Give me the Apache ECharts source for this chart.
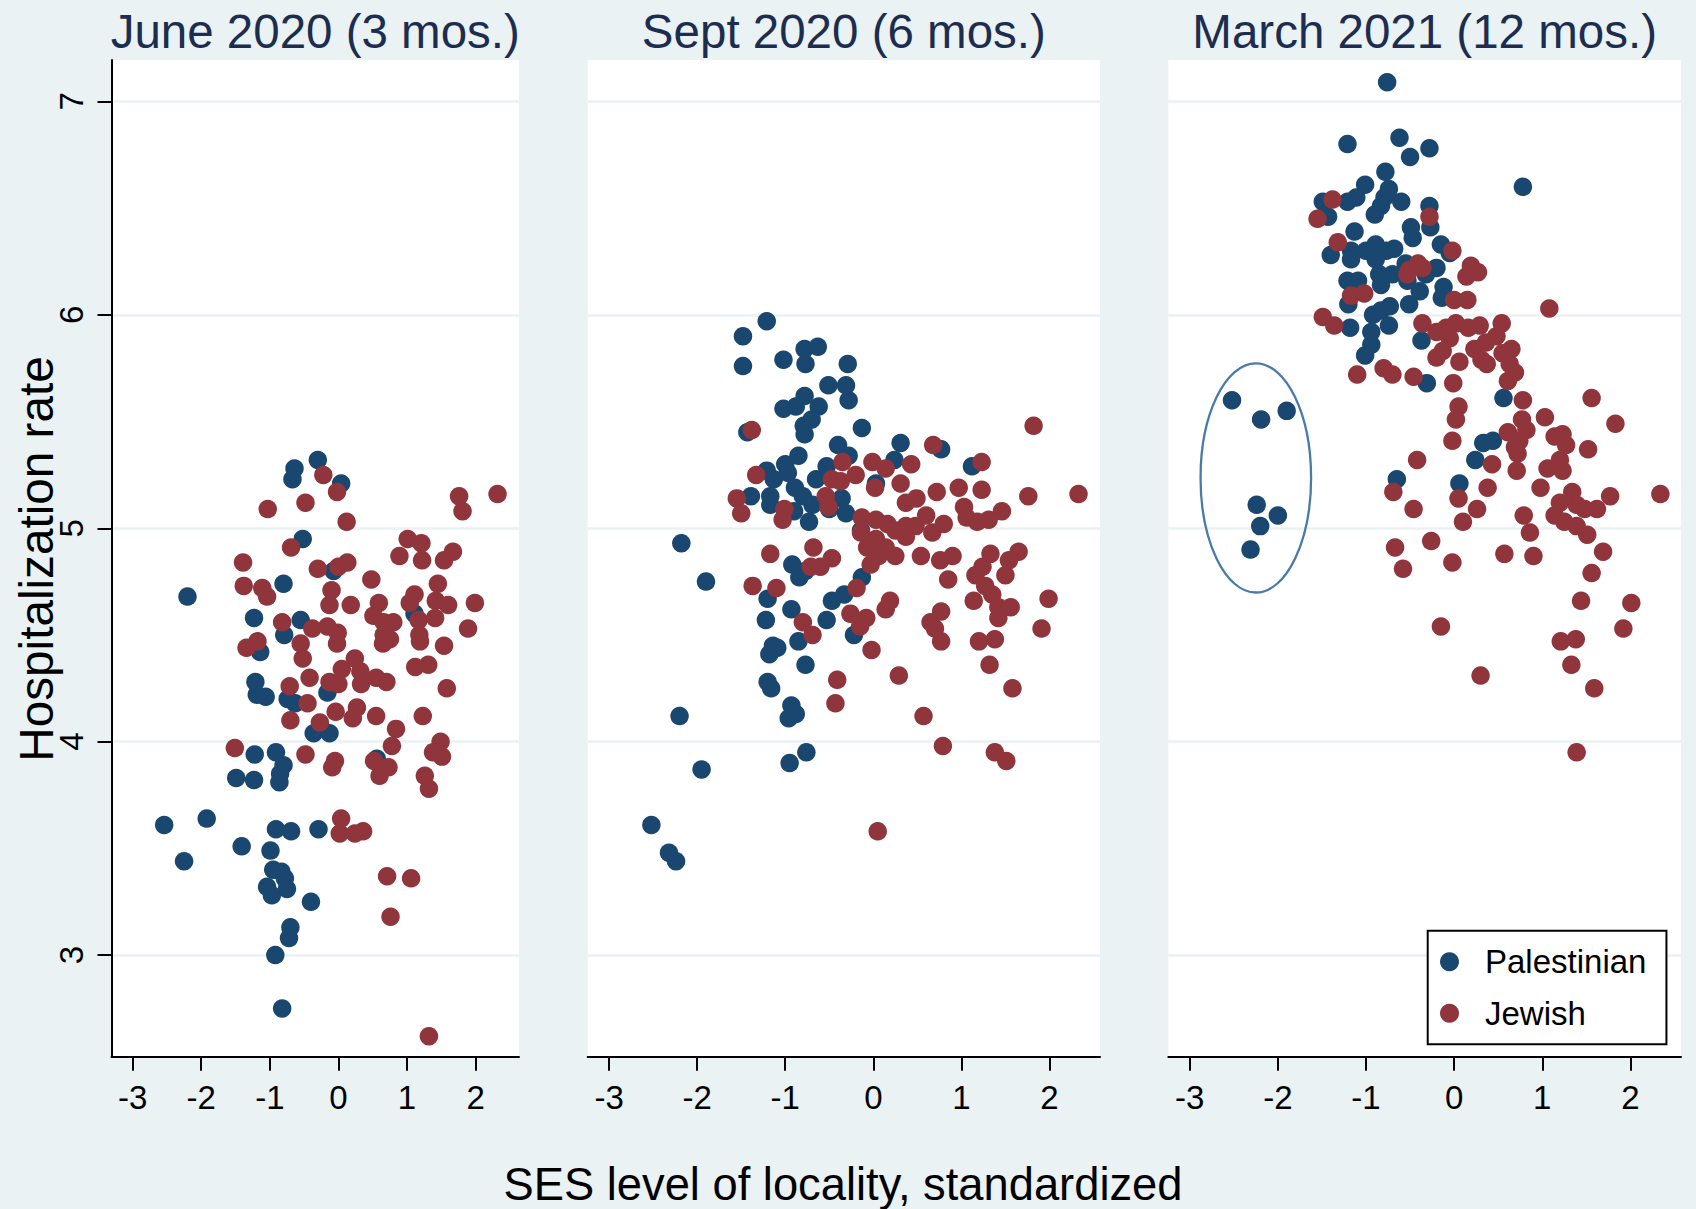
<!DOCTYPE html>
<html><head><meta charset="utf-8">
<script src="https://cdn.jsdelivr.net/npm/echarts@6/dist/echarts.min.js"></script>
<style>html,body{margin:0;padding:0;background:#eaf2f3}#c{width:1696px;height:1209px}</style>
</head><body><div id="c"></div>
<script>
// ---------- data ----------
const panelTitles = ['June 2020 (3 mos.)', 'Sept 2020 (6 mos.)', 'March 2021 (12 mos.)'];
const seriesNames = ['Palestinian', 'Jewish'];
const xTicks = [-3, -2, -1, 0, 1, 2];
const yTicks = [3, 4, 5, 6, 7];
const xTitle = 'SES level of locality, standardized';
const yTitle = 'Hospitalization rate';

const junePalestinian = [[-0.30,5.32],[-0.64,5.28],[-0.67,5.23],[0.04,5.21],[-0.52,4.95],[-2.20,4.68],[-0.80,4.74],[-0.07,4.80],[-1.23,4.58],[-0.55,4.57],[-0.79,4.50],[-1.14,4.42],[1.11,4.60],[-1.21,4.28],[-1.19,4.22],[-1.06,4.21],[-0.74,4.20],[-0.63,4.18],[-0.16,4.23],[-0.36,4.04],[-0.13,4.04],[-1.22,3.94],[-0.91,3.95],[-0.80,3.89],[-0.85,3.85],[-0.86,3.81],[-1.49,3.83],[-1.23,3.82],[0.56,3.92],[-2.54,3.61],[-1.92,3.64],[-2.25,3.44],[-1.41,3.51],[-0.91,3.59],[-0.69,3.58],[-0.29,3.59],[-0.99,3.49],[-0.95,3.40],[-0.83,3.39],[-0.78,3.36],[-1.04,3.32],[-0.97,3.28],[-0.75,3.31],[-0.40,3.25],[-0.70,3.13],[-0.72,3.08],[-0.92,3.00],[-0.82,2.75]];
const juneJewish = [[-0.22,5.25],[-0.02,5.17],[-0.48,5.12],[-1.03,5.09],[0.12,5.03],[1.76,5.15],[1.81,5.08],[2.32,5.16],[-0.69,4.91],[-1.39,4.84],[-1.38,4.73],[-1.11,4.72],[-1.04,4.68],[-0.30,4.81],[0.00,4.82],[0.13,4.84],[-0.10,4.71],[-0.13,4.64],[0.18,4.64],[0.48,4.76],[0.59,4.65],[1.01,4.95],[1.21,4.93],[0.89,4.87],[1.22,4.85],[1.54,4.85],[1.67,4.89],[1.45,4.74],[1.11,4.69],[1.04,4.65],[1.42,4.66],[1.60,4.64],[1.99,4.65],[1.89,4.53],[0.51,4.59],[0.66,4.56],[0.80,4.56],[0.66,4.50],[0.75,4.48],[0.65,4.46],[1.17,4.57],[1.41,4.58],[1.18,4.50],[1.19,4.47],[1.54,4.45],[-0.82,4.56],[-0.38,4.53],[-0.16,4.54],[-0.01,4.51],[-0.02,4.46],[-0.55,4.46],[-1.34,4.44],[-1.18,4.47],[-0.52,4.39],[0.24,4.39],[0.05,4.34],[0.32,4.33],[-0.42,4.30],[-0.71,4.26],[-0.13,4.28],[0.00,4.27],[0.33,4.27],[0.55,4.30],[0.70,4.28],[1.12,4.35],[1.31,4.36],[1.58,4.25],[-0.45,4.18],[-0.04,4.14],[0.27,4.16],[0.21,4.11],[0.55,4.12],[1.23,4.12],[-0.70,4.10],[-0.27,4.09],[0.84,4.06],[0.78,3.98],[1.49,4.00],[1.38,3.95],[1.51,3.93],[-1.51,3.97],[-0.48,3.94],[-0.05,3.91],[-0.09,3.88],[0.52,3.91],[0.73,3.88],[0.60,3.84],[1.26,3.84],[1.32,3.78],[0.04,3.64],[0.02,3.57],[0.24,3.57],[0.36,3.58],[0.71,3.37],[1.06,3.36],[0.76,3.18],[1.32,2.62]];

const septPalestinian = [[-1.21,5.97],[-1.48,5.90],[-1.48,5.76],[-1.02,5.79],[-0.78,5.84],[-0.63,5.85],[-0.77,5.77],[-0.29,5.77],[-0.51,5.67],[-0.31,5.67],[-0.28,5.60],[-0.78,5.62],[-0.88,5.57],[-1.02,5.56],[-0.62,5.57],[-0.70,5.51],[-0.79,5.48],[-0.78,5.44],[-1.43,5.45],[-0.13,5.47],[-0.40,5.39],[-0.28,5.34],[0.31,5.40],[0.24,5.32],[0.77,5.37],[1.12,5.29],[-0.85,5.34],[-1.00,5.30],[-1.21,5.27],[-1.13,5.23],[-0.97,5.26],[-0.65,5.23],[-0.53,5.29],[-0.89,5.19],[-0.80,5.15],[-1.17,5.15],[-1.17,5.11],[-1.39,5.15],[-0.90,5.08],[-0.69,5.11],[-0.73,5.03],[-0.50,5.09],[-0.36,5.14],[-0.31,5.07],[0.03,5.21],[-0.14,4.99],[-2.18,4.93],[-1.90,4.75],[-0.92,4.83],[-0.84,4.77],[-0.77,4.80],[-0.13,4.77],[-0.33,4.69],[-0.47,4.66],[-1.20,4.67],[-1.22,4.57],[-0.93,4.62],[-0.53,4.57],[-0.22,4.50],[-0.85,4.47],[-1.14,4.45],[-1.18,4.41],[-1.09,4.44],[-0.77,4.36],[-1.20,4.28],[-1.16,4.25],[-0.93,4.17],[-0.88,4.13],[-0.96,4.11],[-2.20,4.12],[-0.76,3.95],[-0.95,3.90],[-1.95,3.87],[-2.52,3.61],[-2.32,3.48],[-2.24,3.44]];
const septJewish = [[-1.38,5.46],[1.82,5.48],[0.68,5.39],[1.23,5.31],[2.33,5.16],[1.76,5.15],[-0.35,5.31],[-0.20,5.25],[-0.47,5.23],[-0.37,5.22],[-0.01,5.31],[0.14,5.28],[0.43,5.30],[0.31,5.21],[0.02,5.19],[-1.33,5.25],[-1.55,5.14],[-1.50,5.07],[-1.01,5.09],[-1.03,5.04],[-0.54,5.15],[-0.51,5.10],[0.37,5.12],[0.49,5.14],[0.72,5.17],[0.97,5.19],[1.23,5.18],[1.03,5.10],[1.06,5.05],[1.18,5.03],[1.31,5.04],[1.46,5.08],[0.60,5.06],[0.67,4.98],[0.80,5.02],[0.48,5.01],[-0.13,5.05],[0.03,5.04],[0.16,5.02],[0.25,4.99],[0.37,4.96],[0.37,5.01],[-0.14,4.98],[-0.07,4.91],[0.03,4.95],[0.14,4.91],[0.25,4.87],[0.06,4.87],[-0.03,4.83],[0.54,4.87],[0.76,4.85],[0.90,4.87],[0.85,4.76],[1.33,4.88],[1.24,4.82],[1.16,4.78],[1.65,4.89],[1.54,4.85],[1.50,4.78],[1.27,4.73],[1.35,4.69],[1.99,4.67],[-0.68,4.91],[-0.47,4.86],[-1.17,4.88],[-0.60,4.82],[-0.71,4.82],[-1.37,4.73],[-1.10,4.72],[-0.19,4.72],[0.19,4.66],[1.14,4.66],[-0.80,4.56],[-0.69,4.50],[-0.26,4.60],[-0.08,4.58],[-0.15,4.54],[0.14,4.62],[-0.02,4.43],[-0.41,4.29],[-0.43,4.18],[0.29,4.31],[0.77,4.61],[0.65,4.56],[0.70,4.53],[0.77,4.47],[1.42,4.63],[1.56,4.63],[1.42,4.58],[1.20,4.47],[1.38,4.48],[1.32,4.36],[1.58,4.25],[1.91,4.53],[0.57,4.12],[0.79,3.98],[1.38,3.95],[1.51,3.91],[0.05,3.58]];

const marchPalestinian = [[-0.76,7.09],[-1.21,6.80],[-0.62,6.83],[-0.50,6.74],[-0.28,6.78],[0.78,6.60],[-0.78,6.67],[-1.01,6.61],[-0.74,6.59],[-1.11,6.55],[-1.21,6.53],[-1.49,6.53],[-1.43,6.46],[-0.60,6.53],[-0.79,6.55],[-0.83,6.51],[-0.90,6.47],[-0.28,6.51],[-0.27,6.41],[-0.49,6.41],[-0.47,6.36],[-1.13,6.39],[-1.40,6.28],[-1.17,6.30],[-1.17,6.26],[-1.00,6.30],[-0.89,6.33],[-0.77,6.30],[-0.68,6.31],[-0.89,6.26],[-0.85,6.19],[-0.83,6.14],[-0.70,6.19],[-0.55,6.24],[-0.15,6.33],[-0.05,6.29],[-0.20,6.22],[-0.32,6.19],[-1.21,6.16],[-1.09,6.16],[-0.53,6.16],[-0.39,6.11],[-0.12,6.13],[-0.14,6.08],[-1.20,6.05],[-0.73,6.04],[-0.83,6.02],[-0.51,6.05],[-0.92,6.00],[-0.74,5.95],[-1.18,5.94],[-0.94,5.92],[-0.94,5.86],[-1.01,5.81],[-0.37,5.88],[-2.52,5.60],[-2.19,5.51],[-1.90,5.55],[-2.24,5.11],[-2.00,5.06],[-2.20,5.01],[-2.31,4.90],[-0.31,5.68],[0.56,5.61],[0.33,5.40],[0.44,5.41],[0.24,5.32],[-0.65,5.23],[0.06,5.21]];
const marchJewish = [[-1.38,6.54],[-1.55,6.45],[-1.32,6.34],[-0.28,6.46],[-0.02,6.30],[0.19,6.23],[0.27,6.20],[0.14,6.18],[-0.41,6.24],[-0.36,6.22],[-0.53,6.19],[-0.51,6.21],[-1.17,6.09],[-1.02,6.10],[0.00,6.07],[0.15,6.07],[1.08,6.03],[-1.49,5.99],[-1.36,5.95],[-0.36,5.96],[-0.20,5.92],[-0.09,5.94],[0.02,5.96],[0.16,5.94],[0.29,5.95],[0.54,5.96],[-0.05,5.89],[0.48,5.90],[0.36,5.87],[0.23,5.84],[0.65,5.84],[0.55,5.82],[-0.13,5.83],[-0.20,5.80],[0.06,5.78],[0.31,5.79],[0.37,5.77],[0.63,5.77],[0.69,5.73],[0.61,5.69],[-1.10,5.72],[-0.80,5.75],[-0.70,5.72],[-0.46,5.71],[-0.01,5.68],[0.78,5.60],[1.56,5.61],[0.05,5.57],[0.02,5.51],[1.03,5.52],[1.83,5.49],[0.77,5.51],[0.82,5.46],[0.61,5.45],[0.74,5.41],[0.69,5.38],[0.72,5.35],[1.14,5.43],[1.23,5.44],[1.27,5.39],[1.52,5.37],[-0.02,5.41],[-0.42,5.32],[0.43,5.30],[0.71,5.27],[1.20,5.32],[1.06,5.28],[1.23,5.27],[-0.69,5.17],[0.05,5.14],[0.38,5.19],[0.98,5.19],[1.34,5.17],[1.20,5.12],[1.39,5.11],[1.48,5.09],[1.62,5.09],[1.77,5.15],[2.34,5.16],[1.14,5.06],[1.25,5.03],[1.39,5.01],[1.51,4.97],[-0.46,5.09],[0.26,5.09],[0.10,5.03],[0.79,5.06],[0.86,4.98],[-0.67,4.91],[-0.26,4.94],[-0.58,4.81],[-0.02,4.84],[0.57,4.88],[0.90,4.87],[1.69,4.89],[1.56,4.79],[1.44,4.66],[2.01,4.65],[-0.15,4.54],[1.92,4.53],[1.21,4.47],[1.38,4.48],[1.33,4.36],[0.30,4.31],[1.59,4.25],[1.39,3.95]];

// annotation ellipse in panel 3: [centerX, centerY, radiusX, radiusY] in data units
const outlierEllipse = [[-2.25, 5.236, 0.627, 0.537]];

// ---------- styling / layout ----------
const FONT = "'Liberation Sans', Arial, Helvetica, sans-serif";
const BLUE = '#1a476f', RED = '#90353b', BG = '#eaf2f3';
const panelData = [[junePalestinian, juneJewish], [septPalestinian, septJewish], [marchPalestinian, marchJewish]];
const grids = [
  {left: 111.5, top: 60, width: 407.5, height: 996.7},
  {left: 587.7, top: 60, width: 512.3, height: 996.7},
  {left: 1168.3, top: 60, width: 512.7, height: 996.7}
];
const xRanges = [[-3.308, 2.633], [-3.243, 2.574], [-3.243, 2.574]];
const yRange = [2.524, 7.194];

const chart = echarts.init(document.getElementById('c'), null, {renderer: 'svg', width: 1696, height: 1209});

const xAxes = grids.map((g, i) => ({
  type: 'value', gridIndex: i, min: xRanges[i][0], max: xRanges[i][1],
  axisLine: {show: true, onZero: false, lineStyle: {color: '#000', width: 2}},
  axisTick: {show: true, length: 14, inside: false, lineStyle: {color: '#000', width: 2}, customValues: xTicks},
  axisLabel: {show: true, customValues: xTicks, margin: 24, color: '#000', fontSize: 33, fontFamily: FONT, showMinLabel: true, showMaxLabel: true},
  splitLine: {show: false}
}));
const yAxes = grids.map((g, i) => ({
  type: 'value', gridIndex: i, min: yRange[0], max: yRange[1],
  axisLine: {show: i === 0, onZero: false, lineStyle: {color: '#000', width: 2}},
  axisTick: {show: i === 0, length: 14, inside: false, lineStyle: {color: '#000', width: 2}, customValues: yTicks},
  axisLabel: {show: i === 0, customValues: yTicks, rotate: 90, margin: 24, color: '#000', fontSize: 33, fontFamily: FONT},
  splitLine: {show: true, lineStyle: {color: BG, width: 2.7}}
}));

const series = [];
panelData.forEach((pair, i) => {
  pair.forEach((d, k) => {
    series.push({
      type: 'scatter', name: seriesNames[k], xAxisIndex: i, yAxisIndex: i, data: d,
      symbol: 'circle', symbolSize: 18.5,
      itemStyle: {color: k === 0 ? BLUE : RED, opacity: 1},
      emphasis: {disabled: true}, z: 2 + k
    });
  });
});
series.push({
  type: 'custom', name: 'ellipse', xAxisIndex: 2, yAxisIndex: 2, data: outlierEllipse,
  encode: {x: 0, y: 1}, silent: true, z: 4,
  renderItem: function (params, api) {
    const c = api.coord([api.value(0), api.value(1)]);
    const s = api.size([api.value(2), api.value(3)]);
    return {type: 'ellipse', shape: {cx: c[0], cy: c[1], rx: s[0], ry: s[1]},
      style: {fill: 'none', stroke: '#4a7aaa', lineWidth: 2.3}};
  }
});

const titleTexts = panelTitles.map((t, i) => ({
  type: 'text', x: grids[i].left + grids[i].width / 2, y: 31, silent: true,
  style: {text: t, align: 'center', verticalAlign: 'middle', fontSize: 47.5, fontFamily: FONT, fill: '#1c2d50'}
}));

chart.setOption({
  backgroundColor: BG,
  animation: false,
  grid: grids.map(g => Object.assign({show: true, backgroundColor: '#fff', borderWidth: 0, containLabel: false}, g)),
  xAxis: xAxes,
  yAxis: yAxes,
  series: series,
  legend: {
    data: [{name: seriesNames[0], icon: 'circle'}, {name: seriesNames[1], icon: 'circle'}],
    orient: 'vertical', left: 1427.7, top: 930.7,
    itemWidth: 19, itemHeight: 19, itemGap: 13.6,
    padding: [12, 20, 12, 12.3],
    borderColor: '#000', borderWidth: 2, backgroundColor: '#fff',
    selectedMode: false,
    textStyle: {fontSize: 33, color: '#000', fontFamily: FONT, padding: [0, 0, 0, 21], lineHeight: 38}
  },
  graphic: titleTexts.concat([
    {type: 'text', x: 843, y: 1184, silent: true,
     style: {text: xTitle, align: 'center', verticalAlign: 'middle', fontSize: 45.3, fontFamily: FONT, fill: '#000'}},
    {type: 'text', x: 36, y: 559, rotation: Math.PI / 2, silent: true,
     style: {text: yTitle, align: 'center', verticalAlign: 'middle', fontSize: 47.7, fontFamily: FONT, fill: '#000'}}
  ])
});
</script></body></html>
